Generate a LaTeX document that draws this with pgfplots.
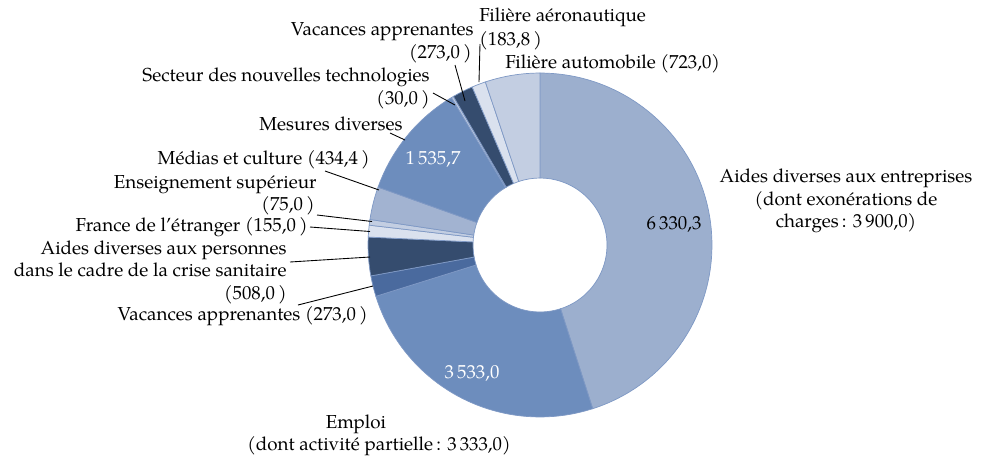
\documentclass[border=0pt]{standalone}
\usepackage{pgfplots}
\pgfplotsset{compat=1.18}
\usepackage{pgfplotstable}
\usepackage{fontspec}
\setmainfont{TeX Gyre Pagella}

\definecolor{cA}{HTML}{9CAFCE}
\definecolor{cB}{HTML}{6D8DBD}
\definecolor{cC}{HTML}{4A6A9E}
\definecolor{cD}{HTML}{354C6E}
\definecolor{cE}{HTML}{DAE1EE}
\definecolor{cF}{HTML}{C3CEE2}
\definecolor{cG}{HTML}{A2B3D1}
\definecolor{cH}{HTML}{6D8DBD}
\definecolor{cI}{HTML}{B9C7DF}
\definecolor{cBorder}{HTML}{7F99C5}

% slices clockwise from the top
\pgfplotstableread{
value col
6330.3 cA
3533.0 cB
273.0 cC
508.0 cD
155.0 cE
75.0 cF
434.4 cG
1535.7 cH
30.0 cI
273.0 cD
183.8 cE
723.0 cF
}\slices

\def\Ro{3.44cm}
\def\Ri{1.34cm}

\begin{document}
\begin{tikzpicture}[every node/.style={font=\fontsize{10.7}{12.8}\selectfont, inner sep=0pt}]
\pgfplotstablegetrowsof{\slices}
\pgfmathtruncatemacro\nlast{\pgfplotsretval-1}
\def\total{0}
\pgfplotsforeachungrouped \i in {0,...,\nlast}{%
  \pgfplotstablegetelem{\i}{value}\of\slices
  \pgfmathsetmacro\total{\total+\pgfplotsretval}%
}
\begin{axis}[x=0.02cm, y=0.02cm, xmin=0, xmax=985, ymin=0, ymax=468,
  y dir=reverse, hide axis, clip=false, scale only axis]
\path (axis cs:0,0) rectangle (axis cs:985,468);
\def\cum{0}
\pgfplotsforeachungrouped \i in {0,...,\nlast}{%
  \pgfplotstablegetelem{\i}{value}\of\slices \let\sval\pgfplotsretval
  \pgfplotstablegetelem{\i}{col}\of\slices \let\slicecol\pgfplotsretval
  \pgfmathsetmacro\angA{90-360*(\cum/\total)}%
  \pgfmathsetmacro\cum{\cum+\sval}%
  \pgfmathsetmacro\angB{90-360*(\cum/\total)}%
  \edef\temp{\noexpand\filldraw[fill=\slicecol, draw=cBorder, line width=0.4pt]
     ([shift={(\angA:\Ro)}]axis cs:540,245) arc[start angle=\angA, end angle=\angB, radius=\Ro]
     -- ([shift={(\angB:\Ri)}]axis cs:540,245) arc[start angle=\angB, end angle=\angA, radius=\Ri] -- cycle;}%
  \temp
}

% leader lines
\addplot[black, line width=0.5pt] coordinates {(455,65) (465,101)};
\addplot[black, line width=0.5pt] coordinates {(480,44) (479,82)};
\addplot[black, line width=0.5pt] coordinates {(433,93) (455,105)};
\addplot[black, line width=0.5pt] coordinates {(390,133) (405,140)};
\addplot[black, line width=0.5pt] coordinates {(325,171) (379,190)};
\addplot[black, line width=0.5pt] coordinates {(317,215) (372,221.5)};
\addplot[black, line width=0.5pt] coordinates {(310,227) (370,231.5)};
\addplot[black, line width=0.5pt] coordinates {(290,262) (370,257)};
\addplot[black, line width=0.5pt] coordinates {(298,305) (373,286)};

% value labels
\node[anchor=base] at (axis cs:674,229) {6\,330,3};
\node[anchor=base, text=white] at (axis cs:472,378) {3\,533,0};
\node[anchor=base, text=white] at (axis cs:433,164) {1\,535,7};

% category labels
\node[anchor=base east] at (axis cs:474,35) {Vacances apprenantes};
\node[anchor=base east] at (axis cs:472,58) {(273,0\,)};
\node[anchor=base west] at (axis cs:479,21) {Filière aéronautique};
\node[anchor=base west] at (axis cs:479,45) {(183,8\,)};
\node[anchor=base west] at (axis cs:505,68) {Filière automobile (723,0)};
\node[anchor=base east] at (axis cs:430,81) {Secteur des nouvelles technologies};
\node[anchor=base east] at (axis cs:430,104) {(30,0\,)};
\node[anchor=base east] at (axis cs:403,130) {Mesures diverses};
\node[anchor=base east] at (axis cs:370,164) {Médias et culture (434,4\,)};
\node[anchor=base east] at (axis cs:317,188) {Enseignement supérieur};
\node[anchor=base east] at (axis cs:315,210.5) {(75,0\,)};
\node[anchor=base east] at (axis cs:308,231) {France de l’étranger (155,0\,)};
\node[anchor=base east] at (axis cs:287,254) {Aides diverses aux personnes};
\node[anchor=base east] at (axis cs:287,276.5) {dans le cadre de la crise sanitaire};
\node[anchor=base east] at (axis cs:287,299) {(508,0\,)};
\node[anchor=base east] at (axis cs:368,320) {Vacances apprenantes (273,0\,)};
\node[anchor=base] at (axis cs:356,428) {Emploi};
\node[anchor=base] at (axis cs:379,450) {(dont activité partielle\,: 3\,333,0)};
\node[anchor=base] at (axis cs:846,182) {Aides diverses aux entreprises};
\node[anchor=base] at (axis cs:846,205) {(dont exonérations de};
\node[anchor=base] at (axis cs:846,227) {charges\,: 3\,900,0)};
\end{axis}
\end{tikzpicture}
\end{document}
